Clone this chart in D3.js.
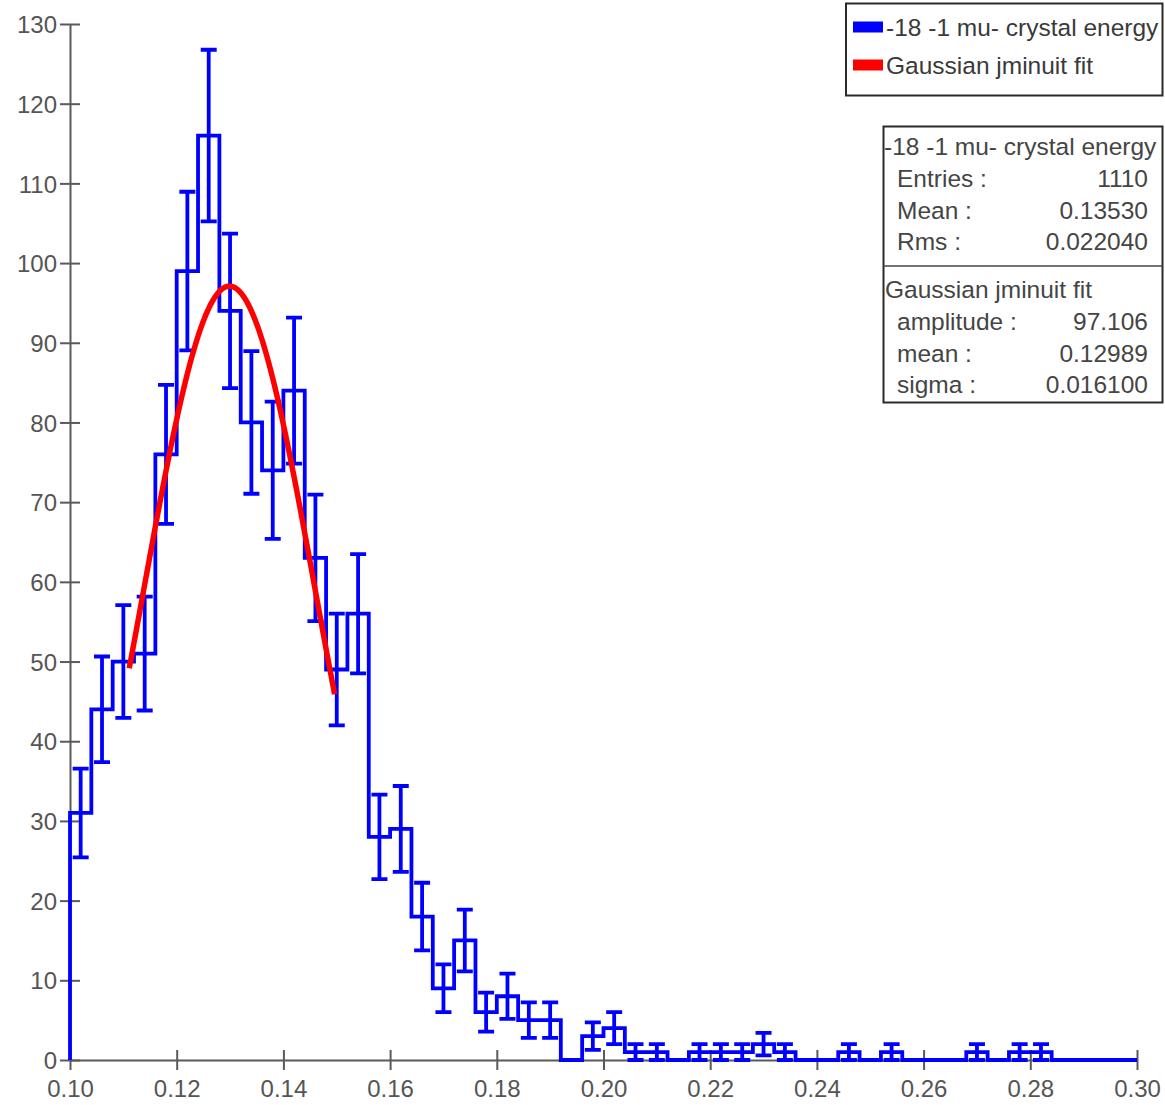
<!DOCTYPE html>
<html>
<head>
<meta charset="utf-8">
<script src="https://cdn.jsdelivr.net/npm/d3@7/dist/d3.min.js"></script>
<style>
  html, body { margin: 0; padding: 0; background: #ffffff; }
  svg { display: block; }
  text { font-family: "Liberation Sans", Arial, sans-serif; }
</style>
</head>
<body>
<svg id="chart" width="1165" height="1105"></svg>
<script>
// Histogram: -18 -1 mu- crystal energy, 50 bins of width 0.004 over [0.10, 0.30]
const histRange = [0.10, 0.30];
const binCount = 50;
const binCounts = [
  31, 44, 50, 51, 76, 99, 116, 94, 80, 74,
  84, 63, 49, 56, 28, 29, 18, 9, 15, 6,
  8, 5, 5, 0, 3, 4, 1, 1, 0, 1,
  1, 1, 2, 1, 0, 0, 1, 0, 1, 0,
  0, 0, 1, 0, 1, 1, 0, 0, 0, 0
];

// Gaussian fit result and the x-range it was drawn over
const fitAmplitude = 97.106;
const fitMean = 0.12989;
const fitSigma = 0.016100;
const fitRange = [0.1111, 0.1496];

// Axis ticks
const xTicks = [0.10, 0.12, 0.14, 0.16, 0.18, 0.20, 0.22, 0.24, 0.26, 0.28, 0.30];
const yTicks = [0, 10, 20, 30, 40, 50, 60, 70, 80, 90, 100, 110, 120, 130];

// Legend and statistics box texts
const legendLabels = ["-18 -1 mu- crystal energy", "Gaussian jminuit fit"];
const legendColors = ["#0000ff", "#ff0000"];
const statsTitle = "-18 -1 mu- crystal energy";
const statsRows = [["Entries :", "1110"], ["Mean :", "0.13530"], ["Rms :", "0.022040"]];
const fitTitle = "Gaussian jminuit fit";
const fitRows = [["amplitude :", "97.106"], ["mean :", "0.12989"], ["sigma :", "0.016100"]];

const svg = d3.select("#chart");
const axisColor = "#5a5a5a";
const textColor = "#555555";

const x = d3.scaleLinear().domain(histRange).range([70, 1137]);
const y = d3.scaleLinear().domain([0, 130]).range([1060, 24]);

const binWidth = (histRange[1] - histRange[0]) / binCount;
const bins = binCounts.map((v, i) => {
  const x0 = histRange[0] + i * binWidth;
  return { x0, x1: x0 + binWidth, xc: x0 + binWidth / 2, v };
});

// ---- axes ----
const yAxis = d3.axisLeft(y).tickValues(yTicks).tickFormat(d3.format("d"))
  .tickSizeInner(10).tickSizeOuter(0).tickPadding(4);
const xAxis = d3.axisBottom(x).tickValues(xTicks).tickFormat(d3.format(".2f"))
  .tickSizeInner(10).tickSizeOuter(0).tickPadding(10);

const gy = svg.append("g").attr("transform", "translate(70,0)").call(yAxis);
const gx = svg.append("g").attr("transform", "translate(0,1060)").call(xAxis);

[gx, gy].forEach(g => {
  g.select(".domain").attr("stroke", axisColor).attr("stroke-width", 2);
  g.selectAll(".tick line").attr("stroke", axisColor).attr("stroke-width", 2);
  g.selectAll(".tick text").attr("fill", textColor)
    .style("font-size", "24px");
});
// ticks cross the axis line on both sides
gy.selectAll(".tick line").attr("x1", 10).attr("x2", -10);
gx.selectAll(".tick line").attr("y1", -10).attr("y2", 10);
gy.selectAll(".tick text").attr("x", -13).attr("dy", "0.36em");
gx.selectAll(".tick text").attr("dy", "0.71em");

// ---- histogram outline ----
const stepPts = [[bins[0].x0, 0]];
bins.forEach(b => { stepPts.push([b.x0, b.v]); stepPts.push([b.x1, b.v]); });
stepPts.push([bins[bins.length - 1].x1, 0]);

const line = d3.line().x(d => x(d[0])).y(d => y(d[1]));
svg.append("path")
  .attr("d", line(stepPts))
  .attr("fill", "none")
  .attr("stroke", "#0000ff")
  .attr("stroke-width", 3.8)
  .attr("stroke-linejoin", "miter");

// ---- error bars (sqrt N) ----
const capHalf = 8;
const eb = svg.append("g").attr("stroke", "#0000ff").attr("stroke-width", 3.8).attr("fill", "none");
bins.filter(b => b.v > 0).forEach(b => {
  const e = Math.sqrt(b.v);
  const cx = x(b.xc);
  const yTop = y(b.v + e), yBot = y(b.v - e);
  eb.append("path")
    .attr("d", `M${cx},${yTop}L${cx},${yBot}` +
               `M${cx - capHalf},${yTop}L${cx + capHalf},${yTop}` +
               `M${cx - capHalf},${yBot}L${cx + capHalf},${yBot}`);
});

// ---- gaussian fit ----
const gauss = t => fitAmplitude * Math.exp(-0.5 * Math.pow((t - fitMean) / fitSigma, 2));
const fitPts = d3.range(0, 201).map(i => {
  const t = fitRange[0] + (fitRange[1] - fitRange[0]) * i / 200;
  return [t, gauss(t)];
});
svg.append("path")
  .attr("d", line(fitPts))
  .attr("fill", "none")
  .attr("stroke", "#ff0000")
  .attr("stroke-width", 5.5)
  .attr("stroke-linejoin", "round");

// ---- legend ----
const legend = svg.append("g");
legend.append("rect")
  .attr("x", 846).attr("y", 3.5).attr("width", 316.5).attr("height", 92)
  .attr("fill", "#ffffff").attr("stroke", "#2a2a2a").attr("stroke-width", 2);
legendLabels.forEach((lab, i) => {
  const cy = 27 + i * 38;
  legend.append("rect")
    .attr("x", 853).attr("y", cy - 5.5).attr("width", 30).attr("height", 11)
    .attr("fill", legendColors[i]);
  legend.append("text")
    .attr("x", 886).attr("y", cy + 9)
    .attr("fill", "#3a3a3a")
    .style("font-size", "24.5px")
    .text(lab);
});

// ---- statistics box ----
const stats = svg.append("g");
stats.append("rect")
  .attr("x", 883.5).attr("y", 126.5).attr("width", 279).attr("height", 276)
  .attr("fill", "#ffffff").attr("stroke", "#2a2a2a").attr("stroke-width", 2);
stats.append("line")
  .attr("x1", 883.5).attr("x2", 1162.5).attr("y1", 266).attr("y2", 266)
  .attr("stroke", "#444444").attr("stroke-width", 1.5);

const statText = (tx, ty, s, anchor) => stats.append("text")
  .attr("x", tx).attr("y", ty).attr("text-anchor", anchor || "start")
  .attr("fill", "#454545").style("font-size", "24.5px").text(s);

statText(884, 155, statsTitle);
statsRows.forEach((r, i) => {
  statText(897, 187 + i * 31.7, r[0]);
  statText(1148, 187 + i * 31.7, r[1], "end");
});
statText(885, 298, fitTitle);
fitRows.forEach((r, i) => {
  statText(897, 330 + i * 31.7, r[0]);
  statText(1148, 330 + i * 31.7, r[1], "end");
});
</script>
</body>
</html>
